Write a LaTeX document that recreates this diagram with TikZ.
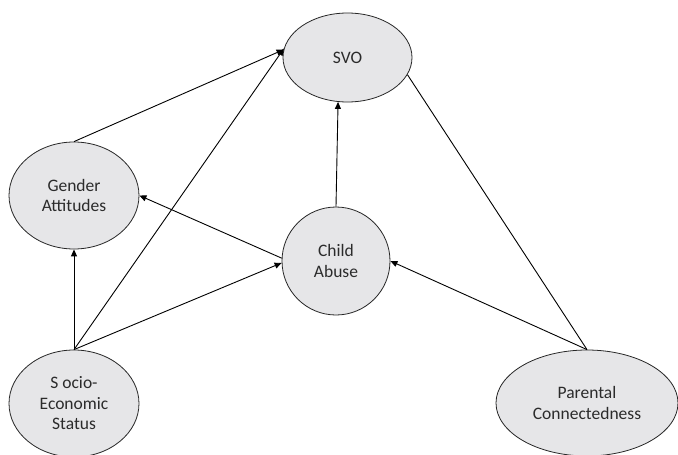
\documentclass[tikz,border=0pt]{standalone}
\usepackage{fontspec}
\setmainfont{Carlito}
\usetikzlibrary{arrows.meta,shapes.geometric}
\definecolor{nodefill}{HTML}{E6E6E8}
\definecolor{txt}{HTML}{2B2B2B}
\tikzset{
  var/.style={ellipse, draw=black!85, line width=0.8pt, fill=nodefill, inner sep=0pt,
    text=txt, align=center, font=\fontsize{17.5}{20.5}\selectfont},
  link/.style={line width=0.9pt, draw=black},
  arr/.style={link, -{Triangle[length=7pt,width=6pt]}}
}
\begin{document}
\begin{tikzpicture}[x=1pt,y=-1pt]
\useasboundingbox (0,0) rectangle (678,455);
\clip (0,0) rectangle (678,455);
\node[var, minimum width=129pt, minimum height=89pt] (svo) at (347.5,57.5) {SVO};
\node[var, minimum width=130pt, minimum height=107pt] (ga) at (74,195.5) {Gender\\Attitudes};
\node[var, minimum width=108pt, minimum height=108pt] (ca) at (336,261) {Child\\Abuse};
\node[var, minimum width=130pt, minimum height=107pt] (ses) at (74,403.5) {S ocio-\\Economic\\Status};
\node[var, minimum width=182pt, minimum height=106pt] (pc) at (587,403) {Parental\\Connectedness};
\draw[arr] (ga.north) -- (svo.173);
\draw[arr] (ses.north) -- (svo.172);
\draw[arr] (ses.north) -- (ga.south);
\draw[arr] (ses.north) -- (ca.182);
\draw[arr] (ca.177) -- (ga.east);
\draw[arr] (ca.north) -- (svo.258);
\draw[arr] (pc.north) -- (ca.east);
\draw[link] (pc.north) -- (svo.-16);
\end{tikzpicture}
\end{document}
